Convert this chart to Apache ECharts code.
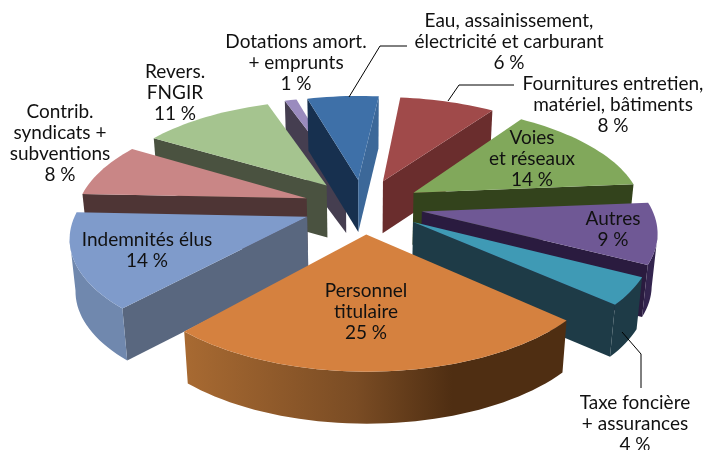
<!DOCTYPE html>
<html>
<head>
<meta charset="utf-8">
<title>Répartition des dépenses</title>
<style>
  html, body { margin: 0; padding: 0; background: #fff; }
  #chart { width: 708px; height: 450px; }
</style>
</head>
<body>
<div id="chart"></div>
<script src="https://cdn.jsdelivr.net/npm/echarts@6/dist/echarts.min.js"></script>
<script>
// clockwise, starting with the big front slice
const categories = [
  'Personnel\ntitulaire', 'Indemnités élus', 'Contrib.\nsyndicats +\nsubventions', 'Revers.\nFNGIR',
  'Dotations amort.\n+ emprunts', 'Eau, assainissement,\nélectricité et carburant',
  'Fournitures entretien,\nmatériel, bâtiments', 'Voies\net réseaux', 'Autres', 'Taxe foncière\n+ assurances'
]
const values = [25, 14, 8, 11, 1, 6, 8, 14, 9, 4]

const topColors = ['#D5813F', '#7F9BCB', '#C98686', '#A5C48F', '#9A8BBE', '#3E70A8', '#A04A4A', '#81A85B', '#6F5895', '#3F9AB5']
const startWallColors = ['#4F2E12', '#59677F', '#4E3535', '#4A5240', '#453E50', '#17304F', '#6A2D2D', '#33431C', '#2A1B3F', '#1E3B47']
const endWallColors = ['#A86A32', '#59677F', '#4E3535', '#4A5240', '#453E50', '#3C6899', '#6A2D2D', '#33431C', '#2A1B3F', '#1E3B47']
const arcWallColors = [null, '#7088AE', '#5A3F3F', '#4A5240', '#453E50', '#3C6899', '#6A2D2D', '#33431C', '#33244E', '#1E3B47']

// painter's order, back slices first
const drawOrder = [4, 5, 3, 2, 1, 6, 7, 8, 9, 0]

// where the labels sit: [x, y of the text block centre]
const labelPos = [
  [366, 312], [147, 250], [60, 143], [175, 93], [296, 63],
  [509, 42], [613, 105], [532, 159], [613, 229], [635, 424]
]
const leaderLines = [
  [[349, 97], [380, 46], [407, 46]],
  [[448, 101], [459, 85], [514, 85]],
  [[622, 332], [641, 354], [641, 388]]
]

const cx = 363
const cy = 206
const radius = 229
const flatten = 105
const perspective = 0.16
const explode = 0.26
const depth = 52
const startAngle = 132

const total = values.reduce((a, b) => a + b, 0)
const rad = d => d * Math.PI / 180

// pie plane to screen, lift 0 is the top surface and 1 the bottom
const project = (u, v, lift) => {
  const s = 1 / (1 - perspective * v)
  const shrink = lift ? 0.98 : 1
  return [cx + radius * u * s * shrink, cy + flatten * v * s + lift * depth]
}

const renderSlice = (params, api) => {
  const idx = api.value(0)
  let from = startAngle
  for (let i = 0; i < idx; i++) from += values[i] / total * 360
  const to = from + api.value(1) / total * 360
  const mid = rad((from + to) / 2)
  const ox = explode * Math.sin(mid)
  const oy = -explode * Math.cos(mid)

  const arc = []
  const steps = Math.max(2, Math.ceil((to - from) / 2))
  for (let i = 0; i <= steps; i++) {
    const a = rad(from + (to - from) * i / steps)
    arc.push([ox + Math.sin(a), oy - Math.cos(a)])
  }
  const top = p => project(p[0], p[1], 0)
  const bottom = p => project(p[0], p[1], 1)
  const apex = [ox, oy]
  const poly = (points, fill) => ({ type: 'polygon', shape: { points }, style: { fill, stroke: 'transparent' } })

  const children = []
  // a side can only be seen when its edge runs leftwards on screen
  const first = arc[0]
  const last = arc[arc.length - 1]
  if (top(first)[0] < top(apex)[0]) {
    children.push(poly([top(apex), top(first), bottom(first), bottom(apex)], startWallColors[idx]))
  }
  if (top(apex)[0] < top(last)[0]) {
    children.push(poly([top(last), top(apex), bottom(apex), bottom(last)], endWallColors[idx]))
  }
  const seen = []
  for (let i = 0; i < arc.length - 1; i++) {
    if (top(arc[i + 1])[0] < top(arc[i])[0]) seen.push(i, i + 1)
  }
  if (seen.length) {
    const part = arc.slice(Math.min(...seen), Math.max(...seen) + 1)
    const fill = idx === 0
      ? new echarts.graphic.LinearGradient(1, 0, 0, 0, [
          { offset: 0, color: '#4F2E12' },
          { offset: 0.3, color: '#4F2E12' },
          { offset: 0.55, color: '#7A4C24' },
          { offset: 1, color: '#A86A32' }
        ])
      : arcWallColors[idx]
    children.push(poly(part.map(top).concat(part.map(bottom).reverse()), fill))
  }
  children.push(poly([top(apex)].concat(arc.map(top)), topColors[idx]))
  return { type: 'group', children }
}

const chart = echarts.init(document.getElementById('chart'))

chart.setOption({
  animation: false,
  series: [
    {
      type: 'custom',
      coordinateSystem: 'none',
      renderItem: renderSlice,
      data: drawOrder.map(i => [i, values[i]])
    }
  ],
  graphic: {
    elements: [
      ...leaderLines.map(points => ({
        type: 'polyline',
        z: 10,
        shape: { points },
        style: { stroke: '#000', lineWidth: 1, fill: null }
      })),
      ...categories.map((name, i) => ({
        type: 'text',
        z: 11,
        x: labelPos[i][0],
        y: labelPos[i][1],
        style: {
          text: name + '\n' + values[i] + ' %',
          font: '19px Lato',
          lineHeight: 21,
          fill: '#111',
          align: 'center',
          verticalAlign: 'middle'
        }
      }))
    ]
  }
})
</script>
</body>
</html>
